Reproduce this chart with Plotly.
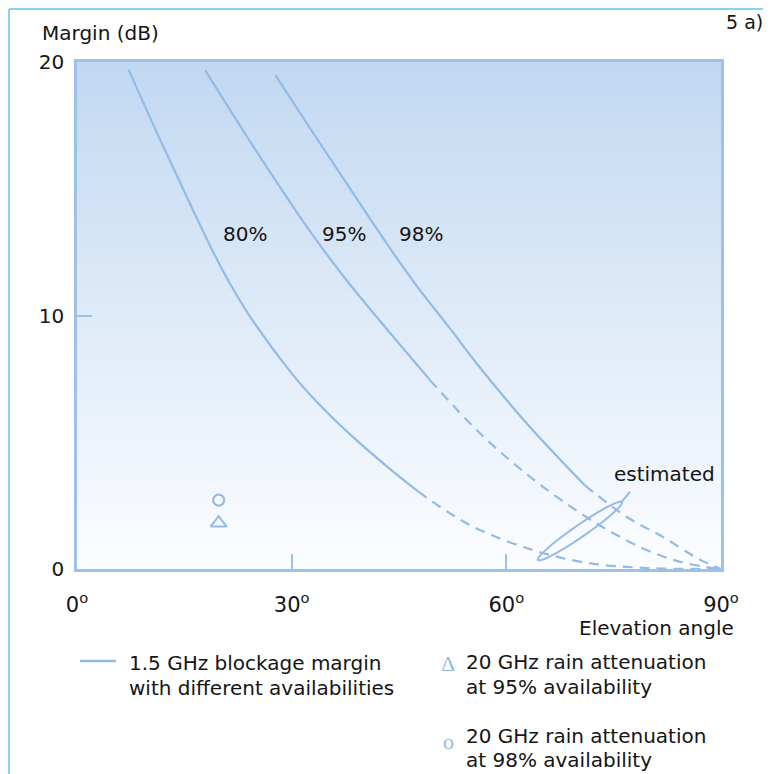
import math
import plotly.graph_objects as go

# ---------------- data ----------------
c80_solid_x = [7.2, 10.7, 13.9, 16.3, 18.6, 20.9, 24.2, 30.2, 33.5, 38.2, 43.3, 47.7]
c80_solid_y = [19.7, 17.5, 15.55, 14.1, 12.75, 11.5, 9.95, 7.65, 6.6, 5.3, 4.05, 3.05]
c80_dash_x = [47.7, 52.1, 56.3, 63.7, 71.3, 79.6, 90.0]
c80_dash_y = [3.05, 2.2, 1.54, 0.75, 0.24, 0.04, 0.0]

c95_solid_x = [17.9, 23.7, 28.4, 33.0, 37.7, 42.3, 49.3]
c95_solid_y = [19.68, 17.08, 15.05, 13.15, 11.38, 9.8, 7.46]
c95_dash_x = [49.3, 56.3, 63.3, 70.3, 74.9, 79.6, 84.3, 88.9, 90.0]
c95_dash_y = [7.46, 5.36, 3.64, 2.21, 1.42, 0.75, 0.28, 0.04, 0.0]

c98_solid_x = [27.7, 33.0, 37.7, 42.3, 47.0, 52.1, 56.3, 63.3, 71.0]
c98_solid_y = [19.49, 17.2, 15.2, 13.25, 11.35, 9.5, 7.95, 5.6, 3.29]
c98_dash_x = [71.0, 76.8, 81.9, 87.1, 90.0]
c98_dash_y = [3.29, 2.06, 1.26, 0.36, 0.0]

rain_elev = [19.8]
rain_95 = [1.81]
rain_98 = [2.72]

x_ticks = [0, 30, 60, 90]
x_tick_text = ["0<sup>o</sup>", "30<sup>o</sup>", "60<sup>o</sup>", "90<sup>o</sup>"]
y_ticks = [0, 10, 20]
y_tick_text = ["0", "10", "20"]

curve_labels = ["80%", "95%", "98%"]
curve_label_x = [23.5, 37.3, 48.1]
curve_label_y = [13.2, 13.2, 13.2]

# ---------------- styles ----------------
BLUE = "#93bbe6"
FRAME = "#9ec1e9"
TXT = "#151515"
FONT = "DejaVu Sans"
OFF = 8  # page body margin
W, H = 771 - OFF, 774 - OFF
ML, MT = 77 - OFF, 62 - OFF
PR, PB = 721 - OFF, 569 - OFF
MR, MB = W - PR, H - PB
PW, PH = PR - ML, PB - MT


def pp(px, py):
    """reference-picture pixel -> paper coords"""
    return (px - OFF - ML) / PW, (PB - (py - OFF)) / PH


fig = go.Figure()

# gradient background
fig.add_trace(go.Heatmap(
    x=[0, 90], y=[0, 20], z=[[0, 0], [1, 1]], zsmooth="best",
    colorscale=[[0, "#fcfdff"], [1, "#c1d8f1"]], showscale=False,
    hoverinfo="skip"))

for xs, ys, dash in [
    (c80_solid_x, c80_solid_y, "solid"), (c80_dash_x, c80_dash_y, "10px,7px"),
    (c95_solid_x, c95_solid_y, "solid"), (c95_dash_x, c95_dash_y, "10px,7px"),
    (c98_solid_x, c98_solid_y, "solid"), (c98_dash_x, c98_dash_y, "10px,7px"),
]:
    fig.add_trace(go.Scatter(
        x=xs, y=ys, mode="lines",
        line=dict(color=BLUE, width=2.2, dash=dash, shape="spline", smoothing=1.0),
        hoverinfo="skip", showlegend=False))

fig.add_trace(go.Scatter(
    x=rain_elev, y=rain_98, mode="markers",
    marker=dict(symbol="circle-open", size=11, color=BLUE, line=dict(width=2.2, color=BLUE)),
    showlegend=False, hoverinfo="skip"))
fig.add_trace(go.Scatter(
    x=rain_elev, y=rain_95, mode="markers",
    marker=dict(symbol="triangle-up-open", size=14, color=BLUE, line=dict(width=2, color=BLUE)),
    showlegend=False, hoverinfo="skip"))

# ellipse around the "estimated" part
cx, cy = 70.3, 1.5
a_px, b_px, th = 51, 6, math.radians(34.6)
sx, sy = PW / 90.0, PH / 20.0
pts = []
for i in range(73):
    t = 2 * math.pi * i / 72
    dx = a_px * math.cos(t) * math.cos(th) - b_px * math.sin(t) * math.sin(th)
    dy = a_px * math.cos(t) * math.sin(th) + b_px * math.sin(t) * math.cos(th)
    pts.append((cx + dx / sx, cy + dy / sy))
path = "M " + " L ".join(f"{x:.3f},{y:.3f}" for x, y in pts) + " Z"

shapes = [
    dict(type="path", xref="x", yref="y", path=path, line=dict(color=BLUE, width=2)),
    dict(type="line", xref="x", yref="y", x0=76.15, y0=2.66, x1=77.3, y1=3.05,
         line=dict(color=BLUE, width=2)),
]
# outer border of the figure (top + left)
x0p, y0p = pp(9, 9)
x1p, _ = pp(771, 9)
_, ybp = pp(9, 774)
shapes.append(dict(type="line", xref="paper", yref="paper", x0=x0p, y0=y0p, x1=x1p, y1=y0p,
                   line=dict(color="#5fc3ec", width=1.5)))
shapes.append(dict(type="line", xref="paper", yref="paper", x0=x0p, y0=y0p, x1=x0p, y1=ybp,
                   line=dict(color="#5fc3ec", width=1.5)))
# legend line sample
lx0, ly = pp(80, 661)
lx1, _ = pp(116, 661)
shapes.append(dict(type="line", xref="paper", yref="paper", x0=lx0, y0=ly, x1=lx1, y1=ly,
                   line=dict(color=BLUE, width=2.5)))

ann = []
for t, x, y in zip(curve_labels, curve_label_x, curve_label_y):
    ann.append(dict(x=x, y=y, xref="x", yref="y", text=t, showarrow=False,
                    font=dict(family=FONT, size=20, color=TXT)))
ann.append(dict(x=74.8, y=3.75, xref="x", yref="y", text="estimated", showarrow=False,
                xanchor="left", font=dict(family=FONT, size=20, color=TXT)))


def pa(text, px, py, xanchor="left", size=20, color=TXT, family=FONT):
    x, y = pp(px, py)
    ann.append(dict(x=x, y=y, xref="paper", yref="paper", text=text, showarrow=False,
                    xanchor=xanchor, yanchor="middle", font=dict(family=family, size=size, color=color)))


pa("Margin (dB)", 40, 33)
pa("5 a)", 765, 22, xanchor="right", size=19)
pa("Elevation angle", 736, 628, xanchor="right")
pa("1.5 GHz blockage margin", 127, 663)
pa("with different availabilities", 127, 688)
pa("20 GHz rain attenuation", 464, 662)
pa("at 95% availability", 464, 687)
pa("20 GHz rain attenuation", 464, 736)
pa("at 98% availability", 464, 760)
pa("Δ", 448, 663, xanchor="center", size=22, color=BLUE, family="Liberation Serif")
pa("o", 448, 741, xanchor="center", size=22, color=BLUE, family="Liberation Serif")

fig.update_layout(
    width=W, height=H,
    margin=dict(l=ML, r=MR, t=MT, b=MB, pad=0),
    paper_bgcolor="white", plot_bgcolor="white",
    shapes=shapes, annotations=ann, showlegend=False,
    font=dict(family=FONT, size=20, color=TXT),
)
fig.update_xaxes(
    range=[0, 90], tickvals=x_ticks, ticktext=x_tick_text,
    showline=True, mirror=True, linecolor=FRAME, linewidth=2.5,
    ticks="inside", ticklen=15, tickwidth=2, tickcolor=FRAME,
    showgrid=False, zeroline=False, ticklabelstandoff=15,
    tickfont=dict(family=FONT, size=21, color=TXT), fixedrange=True)
fig.update_yaxes(
    range=[0, 20], tickvals=y_ticks, ticktext=y_tick_text,
    showline=True, mirror=True, linecolor=FRAME, linewidth=2.5,
    ticks="inside", ticklen=15, tickwidth=2, tickcolor=FRAME,
    showgrid=False, zeroline=False, ticklabelstandoff=6,
    tickfont=dict(family=FONT, size=20, color=TXT), fixedrange=True)

fig.write_html("out.html")
